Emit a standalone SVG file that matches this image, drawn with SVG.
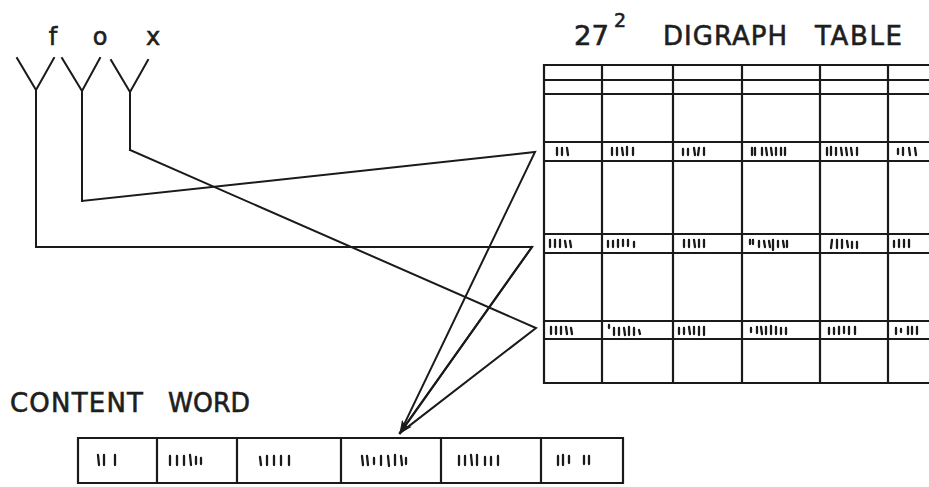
<svg xmlns="http://www.w3.org/2000/svg" width="929" height="487" viewBox="0 0 929 487">
<style>
.ln{fill:none;stroke:#1a1a1a;stroke-width:2;stroke-linejoin:miter;stroke-linecap:square}
.grid{fill:none;stroke:#1a1a1a;stroke-width:2.2}
.mk{fill:none;stroke:#1a1a1a;stroke-width:2.3;stroke-linecap:round}
.lbl{font-family:"DejaVu Sans","Liberation Sans",Arial,sans-serif;font-weight:normal;fill:#1e1e1e;stroke:#1e1e1e;stroke-width:0.6}
</style>
<defs>
<marker id="ah" markerWidth="14" markerHeight="12" refX="12" refY="6" orient="auto" markerUnits="userSpaceOnUse">
<path d="M0,0 L13,6 L0,12 L3,6 Z" fill="#1a1a1a"/>
</marker>
</defs>
<rect width="929" height="487" fill="#ffffff"/>

<g id="letters">
<text class="lbl" x="53" y="45" font-size="24" text-anchor="middle">f</text>
<text class="lbl" x="100" y="45" font-size="24" text-anchor="middle">o</text>
<text class="lbl" x="153" y="45" font-size="24" text-anchor="middle">x</text>
</g>

<g id="node-f">
<path class="ln" d="M17,58 L36,90 L54,58 M36,90 L36,247"/>
</g>
<g id="node-o">
<path class="ln" d="M62,58 L82,91 L100,58 M82,91 L82,201"/>
</g>
<g id="node-x">
<path class="ln" d="M111,60 L130,92 L148,60 M130,92 L130,150"/>
</g>

<g id="title">
<text class="lbl" x="574" y="45" font-size="26" textLength="35" lengthAdjust="spacingAndGlyphs">27</text>
<text class="lbl" x="614" y="27" font-size="19">2</text>
<text class="lbl" x="663" y="45" font-size="26" textLength="124" lengthAdjust="spacing">DIGRAPH</text>
<text class="lbl" x="815" y="45" font-size="26" textLength="87" lengthAdjust="spacing">TABLE</text>
</g>

<g id="digraph-table">
<path class="grid" d="M929,65 L544,65 L544,383 L929,383
M544,80 H929 M544,94 H929
M544,142 H929 M544,161 H929
M544,234 H929 M544,253 H929
M544,321 H929 M544,339 H929
M602,65 V383 M673,65 V383 M742,65 V383 M820,65 V383 M888,65 V383"/>
<path class="mk" d="M557 148 l0 7 M562 148 l0 7 M567 148 l1 7
M612 148 l0 7 M617 148 l0 7 M622 148 l1 7 M627 147 l0 8 M633 148 l0 7
M683 149 l0 6 M688 149 l0 6 M694 148 l1 7 M699 148 l-1 7 M704 148 l0 7
M752 148 l0 7 M755 148 l0 7 M762 148 l0 7 M766 148 l1 7 M771 148 l1 7 M776 148 l0 7 M781 148 l0 7 M785 148 l0 7
M827 148 l0 7 M831 147 l0 8 M836 148 l0 7 M841 148 l1 7 M846 148 l1 7 M851 148 l1 7 M857 148 l0 7
M898 149 l0 5 M903 148 l0 7 M909 148 l1 7 M915 148 l1 7"/>
<path class="mk" d="M550 240 l0 7 M555 240 l0 7 M560 240 l0 7 M565 241 l1 6 M570 241 l1 6
M608 241 l0 6 M613 241 l0 6 M618 240 l0 7 M623 240 l0 6 M628 240 l0 6 M634 242 l0 5
M684 240 l0 7 M689 240 l0 7 M694 240 l1 7 M699 240 l0 7 M704 240 l0 7
M750 240 l0 4 M753 240 l0 4 M759 241 l0 6 M764 241 l1 6 M769 241 l1 6 M773 240 l0 10 M778 241 l0 6 M783 241 l1 6 M787 241 l0 6
M832 240 l-1 8 M837 240 l0 8 M842 240 l0 8 M847 241 l1 6 M852 242 l0 6 M857 242 l0 6
M894 241 l0 6 M899 240 l0 7 M904 240 l0 7 M909 240 l0 7"/>
<path class="mk" d="M551 327 l0 7 M556 327 l0 7 M561 327 l0 7 M566 327 l1 7 M571 328 l1 6
M609 325 l0 3 M614 328 l0 7 M619 328 l0 7 M624 328 l1 7 M629 327 l0 8 M634 328 l0 7 M639 330 l1 4
M679 328 l0 6 M684 328 l0 6 M689 327 l1 7 M694 327 l0 7 M699 327 l0 8 M704 327 l0 8
M751 328 l0 4 M757 327 l0 6 M761 327 l1 7 M766 327 l0 7 M771 326 l0 8 M776 327 l0 7 M781 328 l0 6 M786 328 l0 6
M829 328 l0 6 M834 328 l0 6 M839 327 l0 7 M844 327 l0 6 M849 327 l0 7 M855 327 l0 7
M896 328 l0 6 M901 329 l0 3 M908 327 l0 7 M912 327 l0 7 M917 327 l0 7"/>
</g>

<g id="content-word-label">
<text class="lbl" x="10" y="412" font-size="26" textLength="133" lengthAdjust="spacing">CONTENT</text>
<text class="lbl" x="168" y="412" font-size="26" textLength="82" lengthAdjust="spacingAndGlyphs">WORD</text>
</g>

<g id="content-word">
<path class="grid" d="M78,438 H623 V483 H78 Z M157,438 V483 M237,438 V483 M341,438 V483 M441,438 V483 M541,438 V483"/>
<path class="mk" d="M98 455 l1 10 M104 455 l0 10 M115 455 l0 10
M170 456 l0 9 M177 456 l0 9 M184 456 l0 9 M190 455 l1 10 M196 457 l0 7 M201 458 l0 6
M260 457 l1 8 M267 456 l0 9 M274 456 l0 9 M281 456 l0 9 M289 456 l0 9
M362 456 l1 9 M367 456 l1 9 M374 458 l0 6 M381 456 l0 9 M388 456 l1 10 M395 455 l0 10 M401 456 l1 9 M406 458 l0 6
M459 456 l0 9 M465 456 l0 9 M471 455 l1 10 M477 455 l0 10 M485 457 l0 8 M491 457 l0 8 M498 456 l0 9
M558 456 l0 9 M563 455 l0 10 M569 456 l0 7 M584 456 l0 8 M589 456 l0 8"/>
</g>

<g id="connectors">
<path class="ln" d="M36,247 L532,247 L400,433"/>
<path class="ln" d="M82,201 L535,152 L400,433"/>
<path class="ln" d="M130,150 L536,328 L400,433"/>
<path class="ln" d="M532,247 L400,433" marker-end="url(#ah)"/>
</g>
</svg>
